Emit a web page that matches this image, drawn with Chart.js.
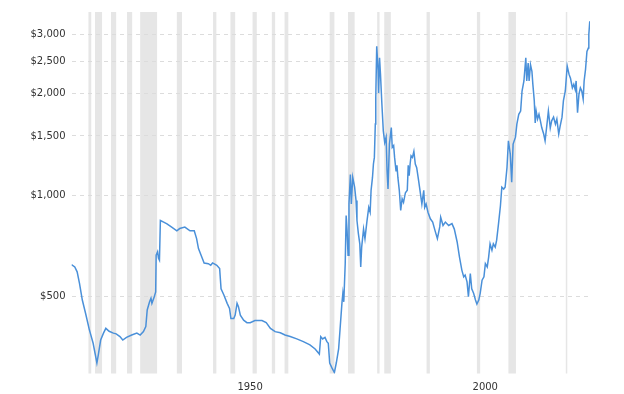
<!DOCTYPE html>
<html>
<head>
<meta charset="utf-8">
<script src="https://cdn.jsdelivr.net/npm/chart.js@4/dist/chart.umd.min.js"></script>
<style>
html,body{margin:0;padding:0;background:#fff;}
#wrap{width:624px;height:394px;}
</style>
</head>
<body>
<div id="wrap"><canvas id="c" width="624" height="394"></canvas></div>
<script>
const years = [1915.0,1915.7,1916.2,1916.7,1917.3,1918.0,1918.8,1919.0,1919.6,1920.4,1920.7,1921.2,1921.8,1922.3,1923.0,1923.9,1924.5,1925.3,1925.9,1926.7,1927.8,1928.9,1929.6,1930.3,1930.8,1931.1,1931.6,1931.9,1932.1,1932.6,1932.9,1933.0,1933.3,1933.5,1933.7,1933.9,1934.6,1935.3,1936.3,1937.4,1938.0,1939.1,1940.2,1941.1,1941.6,1942.0,1942.7,1943.2,1944.1,1944.6,1945.0,1945.9,1946.5,1946.8,1947.4,1948.1,1948.6,1948.9,1949.5,1949.8,1950.2,1950.5,1950.9,1951.6,1952.3,1953.0,1954.0,1955.5,1956.4,1957.3,1958.3,1959.4,1960.4,1961.5,1962.9,1964.3,1965.7,1966.8,1967.7,1968.0,1968.4,1968.9,1969.3,1969.6,1969.9,1970.4,1970.9,1971.3,1971.8,1972.1,1972.5,1972.7,1972.9,1973.2,1973.4,1973.6,1973.8,1974.0,1974.3,1974.5,1974.8,1975.2,1975.5,1975.7,1976.0,1976.3,1976.5,1976.7,1977.1,1977.4,1977.8,1978.2,1978.5,1978.7,1979.0,1979.2,1979.4,1979.6,1979.7,1979.9,1980.2,1980.3,1980.5,1980.7,1981.0,1981.3,1981.6,1981.9,1982.1,1982.3,1982.6,1983.0,1983.2,1983.5,1983.7,1984.0,1984.2,1984.4,1984.7,1985.0,1985.3,1985.6,1986.0,1986.4,1986.6,1986.8,1987.0,1987.2,1987.5,1987.8,1988.1,1988.4,1988.8,1989.1,1989.5,1989.9,1990.1,1990.4,1990.8,1991.3,1991.8,1992.3,1992.8,1993.3,1993.5,1994.0,1994.5,1995.2,1995.9,1996.4,1997.0,1997.5,1998.0,1998.4,1998.7,1999.1,1999.4,1999.8,2000.1,2000.5,2000.9,2001.2,2001.6,2001.9,2002.3,2002.7,2003.0,2003.4,2003.7,2004.0,2004.4,2004.7,2005.1,2005.4,2005.8,2006.2,2006.5,2006.9,2007.2,2007.6,2007.9,2008.3,2008.6,2008.9,2009.4,2009.7,2010.1,2010.5,2010.8,2011.2,2011.6,2011.8,2012.1,2012.3,2012.6,2012.9,2013.1,2013.4,2013.6,2013.8,2014.1,2014.4,2014.7,2015.0,2015.4,2015.7,2016.1,2016.4,2016.8,2017.1,2017.5,2017.9,2018.2,2018.6,2018.9,2019.3,2019.6,2020.0,2020.4,2020.8,2021.1,2021.5,2021.8,2022.1,2022.3,2022.6,2022.9,2023.2,2023.5,2023.8,2024.0,2024.3,2024.6,2024.9,2025.0,2025.2];
const prices = [623,613,593,548,489,446,399,390,364,318,336,372,390,403,395,390,388,381,372,379,385,390,385,394,408,457,483,495,478,500,517,664,680,650,642,842,833,823,805,785,797,805,785,785,744,695,656,630,627,620,630,620,606,528,506,478,462,431,431,441,478,467,441,426,419,419,425,425,419,403,394,391,385,381,375,368,360,350,338,381,375,379,368,364,318,307,298,318,350,400,478,512,483,627,871,786,664,943,1152,943,1130,1058,966,842,770,718,613,702,794,744,833,921,891,1035,1130,1239,1296,1627,1950,2770,2335,2014,2560,2285,1863,1554,1435,1488,1183,1044,1419,1589,1387,1405,1296,1183,1228,1130,1035,902,977,953,1018,1035,1228,1143,1239,1311,1296,1350,1239,1208,1107,1035,943,1035,921,943,891,852,833,786,744,806,861,814,833,814,824,794,727,656,600,573,580,554,500,586,528,512,489,476,489,512,560,573,627,613,656,718,687,718,702,736,824,930,1057,1044,1057,1208,1452,1325,1094,1419,1488,1627,1740,1779,2040,2185,2560,2185,2470,2185,2440,2335,2135,1910,1641,1779,1684,1740,1664,1586,1520,1452,1627,1779,1586,1664,1706,1627,1684,1520,1605,1706,1910,2040,2420,2285,2225,2085,2135,2060,2185,1760,1995,2085,2040,1930,2185,2365,2675,2735,3000,3285];
const recessionStarts = [1918.6,1920.0,1923.4,1926.8,1929.6,1937.4,1945.1,1948.8,1953.5,1957.6,1960.3,1969.9,1973.8,1980.0,1981.5,1990.5,2001.2,2007.9,2020.1];
const recessionEnds   = [1919.2,1921.5,1924.5,1927.9,1933.2,1938.5,1945.8,1949.8,1954.4,1958.3,1961.1,1970.9,1975.2,1980.5,1982.9,1991.2,2001.9,2009.5,2020.3];
const yTickValues = [500,1000,1500,2000,2500,3000];
const xTickValues = [1950,2000];

const bandPlugin = {
  id: 'bands',
  beforeDraw(chart) {
    const {ctx, chartArea, scales} = chart;
    const xs = scales.x;
    ctx.save();
    ctx.fillStyle = '#e6e6e6';
    for (let i = 0; i < recessionStarts.length; i++) {
      const a = xs.getPixelForValue(recessionStarts[i]);
      const b = xs.getPixelForValue(recessionEnds[i]);
      ctx.fillRect(a, chartArea.top, Math.max(b - a, 1.5), chartArea.bottom - chartArea.top);
    }
    ctx.restore();
  }
};

const font = {family: 'DejaVu Sans', size: 10};
new Chart(document.getElementById('c'), {
  type: 'line',
  data: {
    datasets: [{
      data: years.map((y, i) => ({x: y, y: prices[i]})),
      borderColor: '#4a90d9',
      borderWidth: 1.5,
      pointRadius: 0,
      tension: 0,
      fill: false
    }]
  },
  options: {
    responsive: false,
    animation: false,
    layout: {padding: {top: 11, right: 34, left: 0, bottom: 0}},
    plugins: {legend: {display: false}, tooltip: {enabled: false}},
    scales: {
      x: {
        type: 'linear',
        min: 1915,
        max: 2025.25,
        afterFit(s) { s.height = 20.5; },
        afterBuildTicks(s) { s.ticks = xTickValues.map(v => ({value: v})); },
        grid: {display: false, drawTicks: false},
        border: {display: false},
        ticks: {font, color: '#333', padding: 8, labelOffset: 14, maxRotation: 0, autoSkip: false,
          callback: v => String(v)}
      },
      y: {
        type: 'logarithmic',
        min: 296,
        max: 3500,
        afterFit(s) { s.width = 71.5; },
        afterBuildTicks(s) { s.ticks = yTickValues.map(v => ({value: v})); },
        grid: {color: '#dcdcdc', lineWidth: 1, drawTicks: false},
        border: {display: false, dash: [4, 4]},
        ticks: {font, color: '#333', padding: 6,
          callback: v => '$' + Number(v).toLocaleString('en-US')}
      }
    }
  },
  plugins: [bandPlugin]
});
</script>
</body>
</html>
